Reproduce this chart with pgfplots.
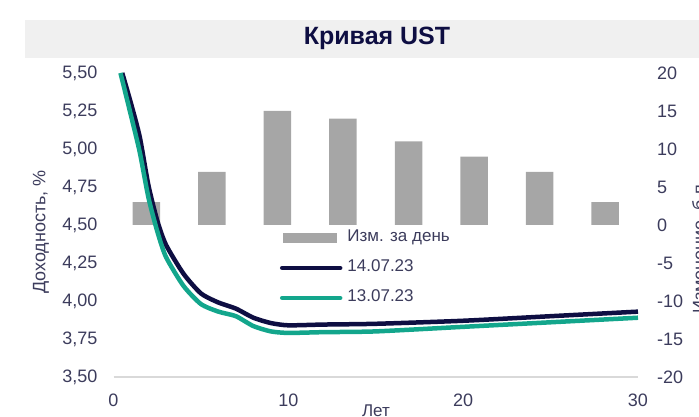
\documentclass[border=0pt]{standalone}
\usepackage{pgfplots}
\pgfplotsset{compat=1.18}
\usepackage{fontspec}
\setmainfont{Liberation Sans}
\definecolor{navy}{HTML}{0E0E42}
\definecolor{tealc}{HTML}{13A68C}
\definecolor{barg}{HTML}{A6A6A6}
\definecolor{tickc}{HTML}{3C3C5C}
\definecolor{band}{HTML}{F0F0F0}
\definecolor{axg}{HTML}{D9D9D9}
\begin{document}
\begin{tikzpicture}
\path[use as bounding box] (0pt,0pt) rectangle (699pt,417pt);
\begin{scope}
\clip (0pt,0pt) rectangle (699pt,417pt);
\fill[band] (25pt,397pt) rectangle (699pt,359pt);
\node[font=\fontsize{25}{25}\selectfont\bfseries, text=navy] at (377pt,379pt) {Кривая UST};
% bars on right axis
\begin{axis}[at={(113.5pt,40pt)}, anchor=south west, scale only axis,
  width=524.5pt, height=304pt,
  xmin=0, xmax=8, ymin=-20, ymax=20,
  axis y line*=right, hide x axis,
  y axis line style={draw=none},
  ytick={-20,-15,...,20}, major tick length=0pt,
  /pgf/number format/assume math mode=true,
  yticklabel style={font=\fontsize{18}{18}\selectfont, text=tickc, inner sep=0pt, anchor=west, xshift=19pt},
  clip=false]
\addplot[ybar, bar width=0.42, fill=barg, draw=none] coordinates {
(0.5,3) (1.5,7) (2.5,15) (3.5,14) (4.5,11) (5.5,9) (6.5,7) (7.5,3)};
\end{axis}
% lines on left axis
\begin{axis}[at={(113.5pt,40pt)}, anchor=south west, scale only axis,
  width=524.5pt, height=304pt,
  xmin=0, xmax=30, ymin=3.5, ymax=5.5,
  axis y line*=left, axis x line*=bottom,
  y axis line style={draw=none},
  x axis line style={draw=axg, line width=1.2pt},
  xtick={0,10,20,30}, ytick={3.5,3.75,...,5.5},
  major tick length=0pt,
  /pgf/number format/assume math mode=true,
  yticklabel style={font=\fontsize{18}{18}\selectfont, text=tickc, inner sep=0pt, anchor=east, xshift=-16pt,
    /pgf/number format/.cd, fixed, fixed zerofill, precision=2, use comma},
  xticklabel style={font=\fontsize{18}{18}\selectfont, text=tickc, inner sep=0pt, anchor=north, yshift=-17pt},
  legend style={draw=none, fill=none, inner sep=0pt, outer sep=0pt,
    at={(0.3174,0.4836)}, anchor=north west,
    font=\fontsize{17}{17}\selectfont, text=tickc,
    nodes={inner sep=0pt, text height=12pt, text depth=4pt},
    row sep=14pt,
    /tikz/every odd column/.append style={column sep=5pt}},
  legend cell align=left,
  clip=false]
\addlegendimage{legend image code/.code={\fill[barg] (1pt,-4.5pt) rectangle (54pt,4.5pt);}}
\addlegendentry{Изм. за день}
\addplot[navy, line width=4.5pt, smooth, tension=0.4,
  legend image code/.code={\draw[navy, line width=4.5pt, line cap=round] (0pt,0pt) -- (58pt,0pt);}]
coordinates {
(0.5,5.50) (1,5.30) (1.5,5.08) (2,4.76) (2.5,4.53) (3,4.37) (4,4.18) (5,4.05)
(6,3.99) (7,3.95) (8,3.89) (9,3.855) (10,3.84) (12,3.845) (15,3.85) (20,3.87) (25,3.90) (30,3.93)};
\addlegendentry{14.07.23}
\addplot[tealc, line width=4.5pt, smooth, tension=0.4,
  legend image code/.code={\draw[tealc, line width=4.5pt, line cap=round] (0pt,0pt) -- (58pt,0pt);}]
coordinates {
(0.4,5.50) (1,5.22) (1.5,4.98) (2,4.68) (2.5,4.46) (3,4.29) (4,4.10) (5,3.98)
(6,3.93) (7,3.90) (8,3.835) (9,3.80) (10,3.79) (12,3.795) (15,3.80) (20,3.83) (25,3.86) (30,3.89)};
\addlegendentry{13.07.23}
\end{axis}
\node[rotate=90, font=\fontsize{18}{18}\selectfont, text=tickc] at (41pt,185pt) {Доходность, \%};
\node[rotate=90, font=\fontsize{18}{18}\selectfont, text=tickc, anchor=north, inner sep=0pt] at (692pt,170pt) {Изменение, б.п.};
\node[font=\fontsize{17}{17}\selectfont, text=tickc] at (376pt,6pt) {Лет};
\end{scope}
\end{tikzpicture}
\end{document}
